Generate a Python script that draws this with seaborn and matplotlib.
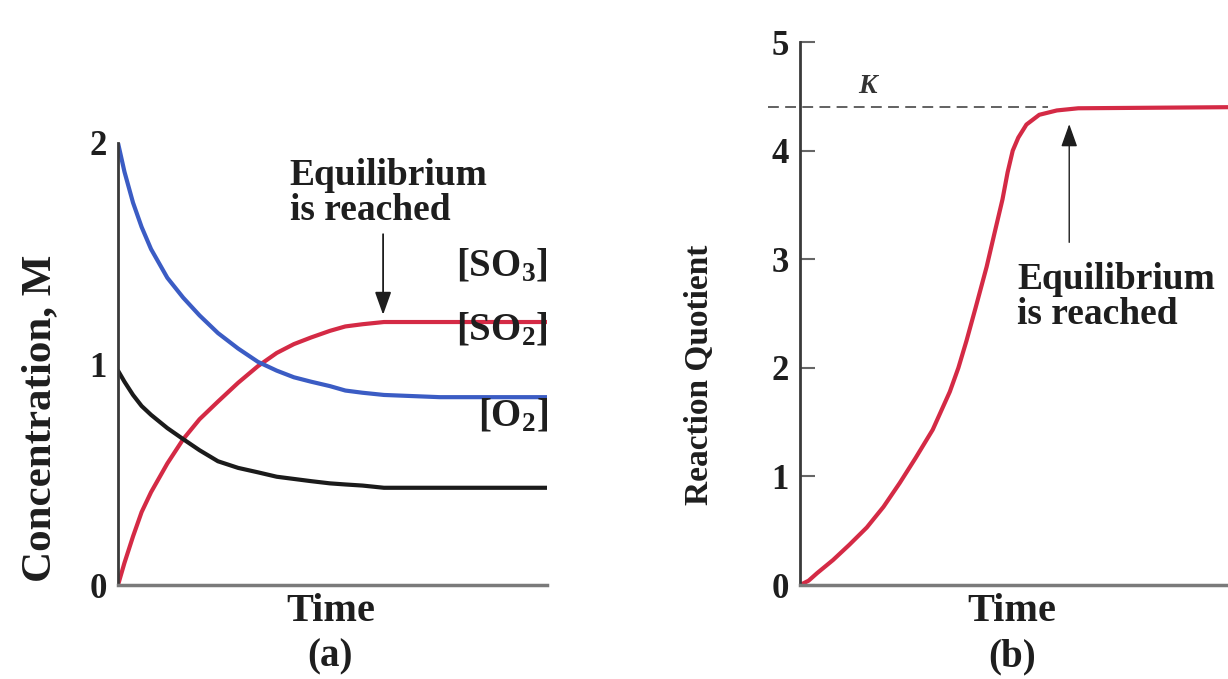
import matplotlib
matplotlib.use("Agg")
import matplotlib.pyplot as plt
import seaborn as sns
import pandas as pd

# panel (a): concentrations (M) against time (arbitrary units)
timeA = [0, 0.15, 0.35, 0.55, 0.77, 1.15, 1.52, 1.9, 2.33, 2.8, 3.26, 3.7, 4.1,
         4.5, 4.94, 5.3, 5.7, 6.2, 7.5, 8.5, 10]
so3 = [0, 0.10, 0.22, 0.33, 0.42, 0.55, 0.66, 0.75, 0.83, 0.915, 0.99, 1.05, 1.09,
       1.12, 1.15, 1.17, 1.18, 1.19, 1.19, 1.19, 1.19]
so2 = [2.0, 1.87, 1.73, 1.62, 1.52, 1.39, 1.30, 1.22, 1.14, 1.07, 1.01, 0.97, 0.94,
       0.92, 0.90, 0.88, 0.87, 0.86, 0.85, 0.85, 0.85]
o2 = [0.97, 0.92, 0.86, 0.81, 0.77, 0.71, 0.66, 0.61, 0.56, 0.53, 0.51, 0.49, 0.48,
      0.47, 0.46, 0.455, 0.45, 0.44, 0.44, 0.44, 0.44]
speciesLabels = {"SO3": "[SO$_3$]", "SO2": "[SO$_2$]", "O2": "[O$_2$]"}
ticksA = [0, 1, 2]

# panel (b): reaction quotient against time
timeB = [0, 0.2, 0.4, 0.77, 1.15, 1.56, 1.95, 2.33, 2.7, 3.1, 3.5, 3.7, 3.89, 4.1,
         4.36, 4.55, 4.73, 4.85, 4.97, 5.1, 5.29, 5.59, 6.0, 6.5, 10]
quotient = [0, 0.04, 0.11, 0.23, 0.37, 0.53, 0.72, 0.94, 1.17, 1.43, 1.78, 2.0, 2.25,
            2.55, 2.93, 3.25, 3.55, 3.8, 4.0, 4.12, 4.24, 4.33, 4.37, 4.39, 4.40]
K = 4.4
ticksB = [0, 1, 2, 3, 4, 5]

sns.set_style("white")
plt.rcParams["font.family"] = ["Liberation Serif", "DejaVu Serif"]
plt.rcParams["font.weight"] = "bold"
plt.rcParams["mathtext.fontset"] = "custom"
plt.rcParams["mathtext.rm"] = "Liberation Serif:bold"
plt.rcParams["mathtext.it"] = "Liberation Serif:bold"

dfA = pd.DataFrame({"time": timeA, "SO3": so3, "SO2": so2, "O2": o2})
dfA = dfA.melt(id_vars="time", var_name="species", value_name="conc")
dfB = pd.DataFrame({"time": timeB, "Q": quotient})

colors = {"SO3": "#d42a45", "SO2": "#3b5cc4", "O2": "#1b1b1b"}
ink = "#1e1e1e"

fig = plt.figure(figsize=(12.28, 6.79), dpi=100)
axA = fig.add_axes([0.0961, 0.1384, 0.3493, 0.651])
axB = fig.add_axes([0.6515, 0.1384, 0.3485, 0.7997])

# ---- panel (a)
sns.lineplot(data=dfA, x="time", y="conc", hue="species", palette=colors,
             linewidth=3, legend=False, sort=False, estimator=None, ax=axA)
axA.set_xlim(0, 10)
axA.set_ylim(0, 2)
axA.set_yticks(ticksA)
axA.set_xticks([])
axA.tick_params(axis="y", length=0, pad=8, labelsize=25, labelcolor=ink)
axA.set_xlabel("")
axA.set_ylabel("")

label_y = {"SO3": 1.44, "SO2": 1.15, "O2": 0.76}
for sp, txt in speciesLabels.items():
    axA.text(10.02, label_y[sp], txt, ha="right", va="center", fontsize=28, color=ink)

axA.text(4.0, 1.93, "Equilibrium\nis reached", ha="left", va="top", fontsize=27,
         color=ink, linespacing=1.0)
axA.annotate("", xy=(6.18, 1.21), xytext=(6.18, 1.60),
             arrowprops=dict(arrowstyle="-|>,head_width=0.25,head_length=0.7",
                             color=ink, lw=1.3, mutation_scale=20))

# ---- panel (b)
sns.lineplot(data=dfB, x="time", y="Q", color="#d42a45", linewidth=3,
             sort=False, estimator=None, ax=axB)
axB.set_xlim(0, 10)
axB.set_ylim(0, 5)
axB.set_yticks(ticksB)
axB.set_xticks([])
axB.tick_params(axis="y", left=True, direction="in", length=11, width=1.5,
                color="#666666", pad=8, labelsize=25, labelcolor=ink)
axB.set_xlabel("")
axB.set_ylabel("")
axB.axhline(K, xmin=-0.075, xmax=0.58, color="#555555", lw=1.3,
            ls=(0, (6, 3.5)), clip_on=False, zorder=1)
axB.text(1.35, K + 0.08, "K", style="italic", fontsize=20, color="#333333",
         ha="left", va="bottom")
axB.text(5.08, 2.97, "Equilibrium\nis reached", ha="left", va="top", fontsize=27,
         color=ink, linespacing=1.0)
axB.annotate("", xy=(6.29, 4.27), xytext=(6.29, 3.13),
             arrowprops=dict(arrowstyle="-|>,head_width=0.25,head_length=0.7",
                             color=ink, lw=1.0, mutation_scale=20))

for ax in (axA, axB):
    for side in ("top", "right"):
        ax.spines[side].set_visible(False)
    ax.spines["left"].set_color("#3a3a3a")
    ax.spines["left"].set_linewidth(2)
    ax.spines["bottom"].set_color("#7a7a7a")
    ax.spines["bottom"].set_linewidth(2.5)

fig.text(0.0326, 0.384, "Concentration, M", rotation=90, ha="center", va="center",
         fontsize=31, color=ink)
fig.text(0.570, 0.448, "Reaction Quotient", rotation=90, ha="center", va="center",
         fontsize=24, color=ink)
for xc, tag in ((0.269, "(a)"), (0.824, "(b)")):
    fig.text(xc, 0.0987, "Time", ha="center", va="center", fontsize=29, color=ink)
    fig.text(xc, 0.032, tag, ha="center", va="center", fontsize=28, color=ink)

fig.savefig("out.png", dpi=100)
